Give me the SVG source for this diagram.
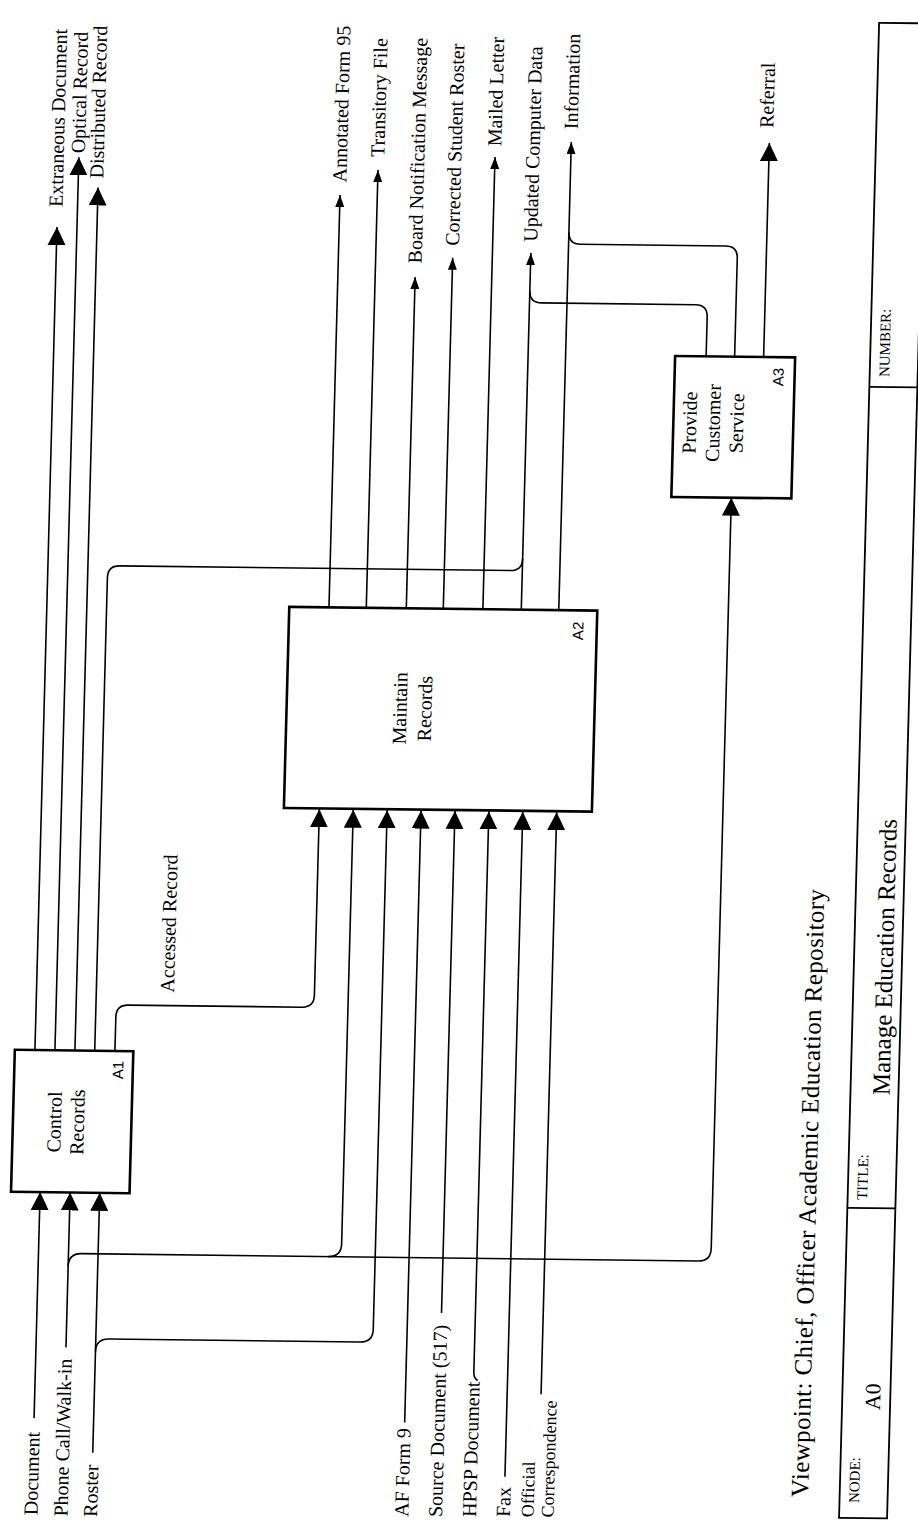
<svg xmlns="http://www.w3.org/2000/svg" width="918" height="1539" viewBox="0 0 918 1539">
<style>
.ln{fill:none;stroke:#000;stroke-width:1.6;stroke-linejoin:round}
.box{fill:#fff;stroke:#000;stroke-width:2.6}
.tb{fill:none;stroke:#000;stroke-width:1.8}
.lbl{font-family:"Liberation Serif","Times New Roman",serif;font-size:20px;fill:#000}
.sml{font-family:"Liberation Serif","Times New Roman",serif;font-size:18px;fill:#000}
.nm{font-family:"Liberation Serif","Times New Roman",serif;font-size:20px;fill:#000;text-anchor:middle}
.id{font-family:"Liberation Sans",Arial,sans-serif;font-size:15px;fill:#000;text-anchor:middle}
.tl{font-family:"Liberation Serif","Times New Roman",serif;font-size:15px;fill:#000}
.big{font-family:"Liberation Serif","Times New Roman",serif;font-size:25px;fill:#000}
.hd{fill:#000;stroke:none}
</style>
<defs>
<marker id="big" markerUnits="userSpaceOnUse" markerWidth="18" markerHeight="18" viewBox="-17 -8.5 17 17" refX="0" refY="0" orient="auto"><path class="hd" d="M0,0 L-17,-8.5 L-17,8.5 z"/></marker>
<marker id="sm" markerUnits="userSpaceOnUse" markerWidth="12" markerHeight="9" viewBox="-12 -4.5 12 9" refX="0" refY="0" orient="auto"><path class="hd" d="M0,0 L-12,-4.5 L-12,4.5 z"/></marker>
</defs>
<g transform="matrix(1 0.012 -0.0268 1 20.6 -5.5)">
<g id="connectors" class="ln">
<path d="M42.6 1055V232" marker-end="url(#big)"/>
<path d="M62.6 1055V162" marker-end="url(#big)"/>
<path d="M82.6 1055V192" marker-end="url(#big)"/>
<path d="M102.4 1055V582Q102.4 570 114.4 570H505Q517 570 517 558"/>
<path d="M122.6 1055V1021Q122.6 1009 134.6 1009H308.5Q320.5 1009 320.5 997V811" marker-end="url(#big)"/>
<path d="M51.6 1423V1197" marker-end="url(#big)"/>
<path d="M81.6 1352V1197" marker-end="url(#big)"/>
<path d="M111.2 1457V1197" marker-end="url(#big)"/>
<path d="M81.6 1271Q81.6 1258 94.6 1258H711Q724 1258 724 1245V494.5" marker-end="url(#big)"/>
<path d="M341.4 1258Q354.4 1258 354.4 1245V811" marker-end="url(#big)"/>
<path d="M111.2 1356Q111.2 1343 124.2 1343H375.3Q388.3 1343 388.3 1330V811" marker-end="url(#big)"/>
<path d="M422.2 1423V811" marker-end="url(#big)"/>
<path d="M456.1 1313V811" marker-end="url(#big)"/>
<path d="M494 1380Q490 1378 490 1372V811" marker-end="url(#big)"/>
<path d="M523.9 1476V811" marker-end="url(#big)"/>
<path d="M557.8 1393V811" marker-end="url(#big)"/>
<path d="M324.7 609V196.6" marker-end="url(#sm)"/>
<path d="M362 609V171.2" marker-end="url(#sm)"/>
<path d="M402 609V277.8" marker-end="url(#sm)"/>
<path d="M439 609V258" marker-end="url(#sm)"/>
<path d="M478.6 609V156.8" marker-end="url(#sm)"/>
<path d="M517 609V252.4" marker-end="url(#sm)"/>
<path d="M554.5 609V140.9" marker-end="url(#sm)"/>
<path d="M695 353.5V314Q695 302 683 302H529Q517 302 517 290"/>
<path d="M723.5 353.5V255Q723.5 243 711.5 243H566.5Q554.5 243 554.5 231"/>
<path d="M752.5 353.5V139.5" marker-end="url(#big)"/>
</g>
<g id="connector-labels">
<text class="lbl" transform="translate(47.5,212) rotate(-90)">Extraneous Document</text>
<text class="lbl" transform="translate(68.5,158) rotate(-90)">Optical Record</text>
<text class="lbl" transform="translate(87.5,183) rotate(-90)">Distributed Record</text>
<text class="lbl" transform="translate(180,996) rotate(-90)">Accessed Record</text>
<text class="lbl" transform="translate(330.7,184) rotate(-90)">Annotated Form 95</text>
<text class="lbl" transform="translate(368,158) rotate(-90)">Transitory File</text>
<text class="lbl" transform="translate(408,264) rotate(-90)">Board Notification Message</text>
<text class="lbl" transform="translate(445,246) rotate(-90)">Corrected Student Roster</text>
<text class="lbl" transform="translate(484.6,146) rotate(-90)">Mailed Letter</text>
<text class="lbl" transform="translate(523,241) rotate(-90)">Updated Computer Data</text>
<text class="lbl" transform="translate(560.5,128) rotate(-90)">Information</text>
<text class="lbl" transform="translate(756,124.5) rotate(-90)">Referral</text>
<text class="lbl" transform="translate(57.6,1520) rotate(-90)">Document</text>
<text class="lbl" transform="translate(87.6,1521) rotate(-90)">Phone Call/Walk-in</text>
<text class="lbl" transform="translate(117.2,1521) rotate(-90)">Roster</text>
<text class="lbl" transform="translate(428.2,1517.4) rotate(-90)">AF Form 9</text>
<text class="lbl" transform="translate(462.1,1517) rotate(-90)">Source Document (517)</text>
<text class="lbl" transform="translate(496,1516.6) rotate(-90)">HPSP Document</text>
<text class="lbl" transform="translate(529.9,1516.2) rotate(-90)">Fax</text>
<text class="sml" transform="translate(553.5,1516) rotate(-90)">Official</text>
<text class="sml" transform="translate(573.5,1516) rotate(-90)">Correspondence</text>
</g>
<g id="A1">
<rect class="box" x="22.5" y="1055" width="118.5" height="142"/>
<text class="nm" transform="translate(70.6,1126.6) rotate(-90)">Control</text>
<text class="nm" transform="translate(93.6,1126.6) rotate(-90)">Records</text>
<text class="id" transform="translate(131.4,1074) rotate(-90)">A1</text>
</g>
<g id="A2">
<rect class="box" x="285" y="609" width="308" height="201"/>
<text class="nm" transform="translate(405,709) rotate(-90)">Maintain</text>
<text class="nm" transform="translate(430,709) rotate(-90)">Records</text>
<text class="id" transform="translate(579.6,629.5) rotate(-90)">A2</text>
</g>
<g id="A3">
<rect class="box" x="664" y="353.5" width="120" height="141"/>
<text class="nm" transform="translate(687,420) rotate(-90)">Provide</text>
<text class="nm" transform="translate(710.5,420) rotate(-90)">Customer</text>
<text class="nm" transform="translate(734,420) rotate(-90)">Service</text>
<text class="id" transform="translate(772.8,373.3) rotate(-90)">A3</text>
</g>
<g id="viewpoint">
<text class="big" transform="translate(827.5,1492.7) rotate(-90)" textLength="608">Viewpoint:  Chief, Officer Academic Education Repository</text>
</g>
<g id="title-block">
<rect class="tb" x="859" y="18" width="48" height="1495"/>
<line class="tb" x1="859" y1="382" x2="907" y2="382"/>
<line class="tb" x1="859" y1="1203" x2="907" y2="1203"/>
<text class="tl" transform="translate(878.5,1498) rotate(-90)">NODE:</text>
<text class="big" transform="translate(897,1405) rotate(-90)" style="font-size:22px">A0</text>
<text class="tl" transform="translate(878.5,1195) rotate(-90)">TITLE:</text>
<text class="big" transform="translate(898,1090) rotate(-90)">Manage Education Records</text>
<text class="tl" transform="translate(878.5,372) rotate(-90)">NUMBER:</text>
</g>
</g>
</svg>
